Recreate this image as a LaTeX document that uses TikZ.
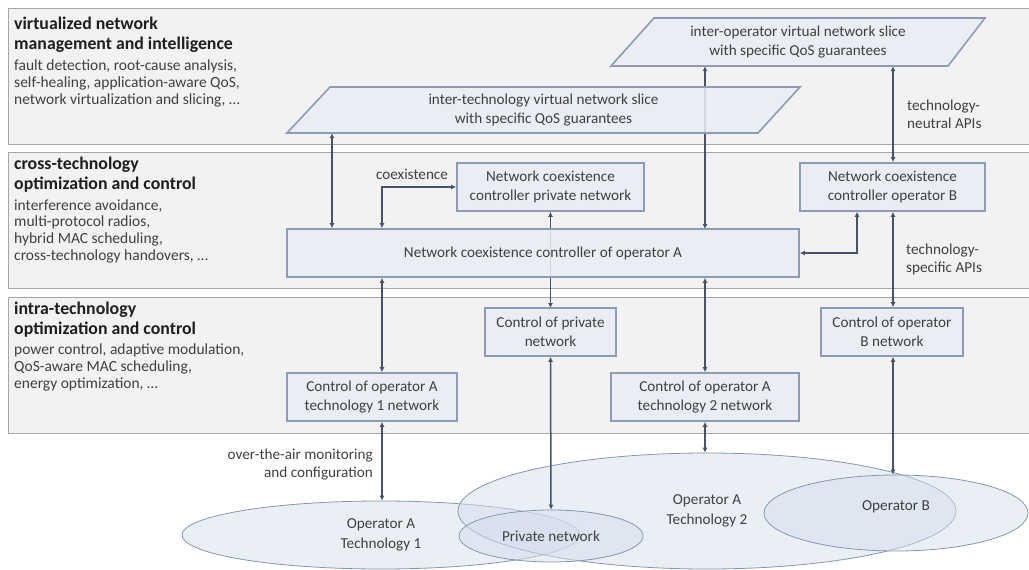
\documentclass[tikz,border=0pt]{standalone}
\usepackage{fontspec}
\setmainfont{Carlito}
\usetikzlibrary{arrows.meta,calc,shapes.geometric}
\definecolor{bandfill}{HTML}{F2F2F2}
\definecolor{banddraw}{HTML}{A6A6A6}
\definecolor{boxfill}{HTML}{E9EDF5}
\definecolor{boxdraw}{HTML}{8C9BB8}
\definecolor{arrcol}{HTML}{44546A}
\definecolor{txt}{HTML}{404040}
\definecolor{headcol}{HTML}{1E1E1E}
\definecolor{ellfill}{HTML}{D5DDEC}
\definecolor{elldraw}{HTML}{8497B0}
\begin{document}
\begin{tikzpicture}[x=1pt,y=-1pt,
  band/.style={fill=bandfill,draw=banddraw,line width=1pt},
  box/.style={draw=boxdraw,fill=boxfill,fill opacity=0.85,text opacity=1,line width=1.6pt,align=center,text=txt,
    font=\fontsize{15.2}{19}\selectfont,inner sep=0pt,minimum height=48},
  slicepath/.style={draw=boxdraw,fill=boxfill,fill opacity=0.85,line width=1.6pt},
  slicetext/.style={align=center,text=txt,font=\fontsize{15.2}{19}\selectfont,inner sep=0pt},
  ell/.style={ellipse,draw=elldraw,fill=ellfill,fill opacity=0.5,text opacity=1,line width=0.8pt,inner sep=0pt,
    text=txt,align=center,font=\fontsize{15.2}{20}\selectfont},
  arr/.style={draw=arrcol,line width=1.5pt,{Latex[length=5pt,width=5pt]}-{Latex[length=5pt,width=5pt]}},
  head/.style={font=\fontsize{17.8}{20}\selectfont\bfseries,text=headcol,align=left,inner sep=0pt,anchor=west},
  body/.style={font=\fontsize{15.5}{16.7}\selectfont,text=txt,align=left,inner sep=0pt,anchor=west},
  lbl/.style={font=\fontsize{15.2}{18}\selectfont,text=txt,inner sep=0pt}]
\useasboundingbox (0,0) rectangle (1029,570);
\clip (0,0) rectangle (1029,570);
% bands
\draw[band] (8,8) rectangle (1045,144);
\draw[band] (8,152) rectangle (1045,288);
\draw[band] (8,297) rectangle (1045,433);
% left texts
\node[head] (h1) at (14,35) {virtualized network\\management and intelligence};
\node[body] (b1) at (14,83.5) {fault detection, root-cause analysis,\\self-healing, application-aware QoS,\\network virtualization and slicing, \dots};
\node[head] (h2) at (14,175) {cross-technology\\optimization and control};
\node[body] (b2) at (14,231) {interference avoidance,\\multi-protocol radios,\\hybrid MAC scheduling,\\cross-technology handovers, \dots};
\node[head] (h3) at (14,320) {intra-technology\\optimization and control};
\node[body] (b3) at (14,367.5) {power control, adaptive modulation,\\QoS-aware MAC scheduling,\\energy optimization, \dots};
% column coordinates
\coordinate (xL) at (332,0);
\coordinate (xA) at (382,0);
\coordinate (xT2) at (705,0);
\coordinate (xB) at (893,0);
\coordinate (xBB) at (857,0);
% slice 2 (inter-operator)
\draw[slicepath] (611,66) -- (948,66) -- (985,18) -- (654,18) -- cycle;
\node[slicetext,minimum width=334,minimum height=48] (s2) at (798,42) {inter-operator virtual network slice\\with specific QoS guarantees};
% long line behind slice 1
\draw[arr] (s2.south -| xT2) -- (705,229);
% slice 1 (inter-technology)
\draw[slicepath] (287,133) -- (758,133) -- (800,87) -- (330,87) -- cycle;
\node[slicetext,minimum width=470,minimum height=46] (s1) at (543.5,110) {inter-technology virtual network slice\\with specific QoS guarantees};
% boxes
\node[box,minimum width=187] (ncp) at (550.5,187) {Network coexistence\\controller private network};
\node[box,minimum width=185] (ncb) at (892.5,187) {Network coexistence\\controller operator B};
\draw[arr] (ncp.south) -- (550.5,308);
\node[box,minimum width=512] (nca) at (543,253) {Network coexistence controller of operator A};
\node[box,minimum width=131] (cp) at (550.5,332) {Control of private\\network};
\node[box,minimum width=142] (cb) at (892,332) {Control of operator\\B network};
\node[box,minimum width=170] (ca1) at (372,397) {Control of operator A\\technology 1 network};
\node[box,minimum width=188] (ca2) at (705,397) {Control of operator A\\technology 2 network};
% ellipses
\node[ell,minimum width=398,minimum height=68] (opa1) at (381,535) {Operator A\\Technology 1};
\node[ell,minimum width=498,minimum height=116] (opa2) at (707,511) {Operator A\\Technology 2};
\node[ell,minimum width=184,minimum height=52] (pn) at (551,536) {Private network};
\node[ell,minimum width=264,minimum height=76] (opb) at (896,513) {\hspace*{0pt}Operator B\\[-5pt]\mbox{}};
% connectors
\draw[arr] (s1.south -| xL) -- (nca.north -| xL);
\draw[arr] (s2.south -| xB) -- (ncb.north -| xB);
\draw[arr] (nca.north -| xA) |- (ncp.west);
\draw[arr] (nca.east) -| (ncb.south -| xBB);
\draw[arr] (nca.south -| xA) -- (ca1.north -| xA);
\draw[arr] (nca.south -| xT2) -- (ca2.north -| xT2);
\draw[arr] (ncb.south -| xB) -- (cb.north -| xB);
\draw[arr] (ca1.south -| xA) -- (opa1.north -| xA);
\draw[arr] (cp.south) -- (pn.north);
\draw[arr] (ca2.south -| xT2) -- (opa2.north -| xT2);
\draw[arr] (cb.south -| xB) -- (opb.north -| xB);
% labels
\node[lbl] (lcoex) at (412,174) {coexistence};
\node[lbl,align=left,anchor=west] (lneutral) at (907,114) {technology-\\neutral APIs};
\node[lbl,align=left,anchor=west] (lspecific) at (906,259.5) {technology-\\specific APIs};
\node[lbl,align=right,anchor=east] (lota) at (373,465) {over-the-air monitoring\\and configuration};
\end{tikzpicture}
\end{document}
